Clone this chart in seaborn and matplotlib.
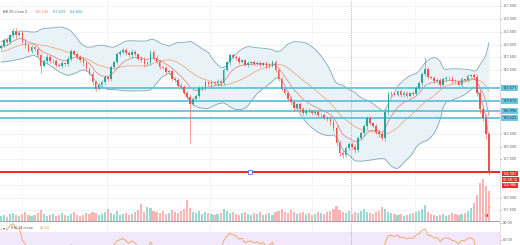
import numpy as np
import pandas as pd
import matplotlib
matplotlib.use("Agg")
import matplotlib.pyplot as plt
import seaborn as sns

# ---------------- data ----------------
warmup = [147.2, 147.6, 147.0, 146.8, 147.5, 148.1, 148.6, 148.2, 147.9, 148.4,
          149.0, 149.5, 149.1, 148.7, 149.3, 149.9, 150.2, 149.6, 149.4]

closes = [
    149.8, 150.9, 150.5, 151.9, 152.6, 152.0, 152.3, 150.6, 149.9, 148.8,
    149.5, 149.1, 148.0, 145.9, 146.9, 147.6, 146.8, 146.9, 146.1, 145.9,
    146.4, 146.2, 147.3, 148.7, 148.2, 147.6, 147.0, 146.4, 145.3, 144.3,
    142.6, 141.4, 142.2, 142.6, 143.6, 143.2, 145.6, 146.7, 148.1, 148.5,
    149.0, 148.4, 147.9, 148.6, 148.1, 147.3, 147.1, 146.2, 146.5, 148.6,
    147.4, 146.7, 145.6, 145.5, 144.6, 144.8, 143.3, 143.1, 142.0, 141.7,
    140.6, 139.8, 138.4, 139.4, 140.0, 141.5, 141.6, 142.6, 142.3, 142.6,
    142.4, 142.8, 142.5, 145.1, 146.6, 147.9, 147.6, 147.4, 146.7, 147.0,
    146.1, 146.4, 146.6, 146.2, 146.5, 146.1, 146.4, 145.7, 146.1, 146.6,
    145.1, 143.3, 141.4, 140.5, 139.4, 138.7, 137.5, 138.3, 137.4, 136.6,
    137.1, 137.0, 136.6, 136.8, 136.2, 136.3, 135.7, 135.5, 134.8, 133.7,
    130.8, 128.7, 128.3, 129.8, 130.5, 130.0, 129.3, 131.8, 132.6, 134.0,
    135.6, 134.6, 134.1, 132.9, 132.5, 131.7, 136.8, 140.4, 140.5, 140.2,
    140.9, 140.1, 140.6, 140.0, 140.5, 140.4, 141.6, 142.5, 144.2, 145.2,
    143.6, 143.5, 142.9, 143.1, 142.2, 143.3, 143.5, 143.4, 142.9, 142.8,
    142.2, 143.2, 143.1, 143.9, 144.0, 143.7, 140.6, 137.4, 135.6, 132.4,
    125.0,
]

wicks = [
    0.4, 0.3, 0.5, 0.3, 0.4, 0.6, 0.3, 0.4, 0.5, 0.3,
    0.4, 0.3, 0.5, 0.4, 0.3, 0.5, 0.4, 0.3, 0.4, 0.3,
    0.5, 0.3, 0.4, 0.5, 0.3, 0.4, 0.3, 0.5, 0.4, 0.3,
    0.5, 0.4, 0.3, 0.4, 0.5, 0.3, 0.4, 0.3, 0.5, 0.4,
    0.3, 0.4, 0.3, 0.5, 0.4, 0.3, 0.4, 0.5, 0.3, 0.4,
    0.3, 0.5, 0.4, 0.3, 0.4, 0.3, 0.5, 0.4, 0.3, 0.4,
    0.5, 0.4, 0.6, 0.4, 0.3, 0.5, 0.3, 0.4, 0.3, 0.4,
    0.3, 0.4, 0.5, 0.4, 0.3, 0.5, 0.4, 0.3, 0.4, 0.3,
    0.3, 0.4, 0.3, 0.4, 0.3, 0.4, 0.3, 0.4, 0.3, 0.4,
    0.5, 0.4, 0.5, 0.3, 0.4, 0.5, 0.4, 0.3, 0.4, 0.3,
    0.3, 0.4, 0.3, 0.4, 0.3, 0.4, 0.3, 0.4, 0.5, 0.6,
    0.6, 0.5, 0.6, 0.4, 0.5, 0.4, 0.5, 0.4, 0.5, 0.4,
    0.5, 0.4, 0.3, 0.4, 0.5, 0.4, 0.6, 0.5, 0.4, 0.3,
    0.3, 0.4, 0.3, 0.4, 0.3, 0.4, 0.3, 0.4, 0.5, 0.4,
    0.4, 0.3, 0.4, 0.3, 0.4, 0.3, 0.4, 0.3, 0.4, 0.3,
    0.3, 0.4, 0.3, 0.4, 0.3, 0.4, 0.6, 0.7, 0.6, 0.8,
    0.5,
]
long_low_idx = [13, 62, 160]
long_low_val = [144.5, 130.8, 124.4]
long_high_idx = [4, 139]
long_high_val = [153.3, 147.6]

volumes = [
    5, 6, 4, 7, 8, 6, 5, 7, 9, 6,
    5, 6, 8, 11, 7, 5, 6, 7, 5, 6,
    8, 6, 5, 7, 9, 6, 5, 6, 8, 7,
    9, 8, 6, 7, 9, 12, 8, 7, 10, 6,
    7, 8, 6, 7, 9, 11, 17, 9, 14, 13,
    10, 9, 8, 10, 7, 8, 11, 9, 8, 10,
    12, 21, 13, 9, 8, 10, 7, 9, 8, 7,
    6, 7, 8, 12, 10, 8, 9, 7, 6, 8,
    9, 7, 6, 8, 7, 9, 6, 7, 8, 6,
    9, 10, 12, 9, 8, 11, 9, 7, 8, 9,
    7, 8, 6, 7, 9, 8, 7, 9, 10, 12,
    15, 11, 9, 8, 10, 7, 9, 8, 10, 12,
    9, 8, 7, 9, 10, 14, 12, 9, 8, 7,
    6, 7, 5, 6, 7, 8, 9, 10, 12, 16,
    9, 7, 6, 5, 6, 7, 5, 6, 8, 7,
    6, 7, 8, 10, 13, 18, 26, 38, 42, 35,
    30,
]

levels_cyan = [141.571, 139.012, 136.996, 135.622]
level_red = 124.987
price_ticks = [157.5, 155.0, 152.5, 150.0, 147.5, 145.0, 132.5, 130.0, 127.5, 120.0, 117.5]
rsi_ticks = [80, 60]
header_vals = ["128.145", "131.429", "124.860"]
rsi_value = "46.24"
red_labels = ["124.987", "01:38:15", "124.986"]

# ---------------- derived series ----------------
allc = pd.Series(warmup + closes, dtype=float)
nw = len(warmup)
n = len(closes)
idx = np.arange(n)
c = np.array(closes)
o = np.array([warmup[-1]] + closes[:-1])
w = np.array(wicks)
hi = np.maximum(o, c) + w
lo = np.minimum(o, c) - w
for i, v in zip(long_low_idx, long_low_val):
    lo[i] = v
for i, v in zip(long_high_idx, long_high_val):
    hi[i] = v

mid = allc.rolling(20, min_periods=5).mean()
sd = allc.rolling(20, min_periods=5).std(ddof=0)
bb_up = (mid + 2 * sd).values[nw:]
bb_lo = (mid - 2 * sd).values[nw:]
bb_mid = mid.values[nw:]
ema9 = allc.ewm(span=9, adjust=False).mean().values[nw:]

delta = allc.diff()
gain = delta.clip(lower=0).ewm(alpha=1 / 14, adjust=False).mean()
loss = (-delta.clip(upper=0)).ewm(alpha=1 / 14, adjust=False).mean()
rsi = (100 - 100 / (1 + gain / loss)).values[nw:]

df = pd.DataFrame({"i": idx, "up": bb_up, "lo": bb_lo, "mid": bb_mid,
                   "ema": ema9, "rsi": rsi})

# ---------------- figure ----------------
sns.set_theme(style="white")
plt.rcParams["font.family"] = ["Roboto", "DejaVu Sans"]
W, H = 520, 245
fig = plt.figure(figsize=(W / 100, H / 100), dpi=100)
fig.patch.set_facecolor("white")


def px(x, y):
    return x / W, 1 - y / H


PLOT_R = 500
main_rect = [0, 1 - 221 / H, PLOT_R / W, 221 / H]
rsi_rect = [0, 0, PLOT_R / W, 23 / H]


def ypx(p):
    return 172.3 - (p - level_red) * 5.1


ylim_main = (level_red - (221 - 172.3) / 5.1, level_red + 172.3 / 5.1)
xlim = (-1 / 3.05, (PLOT_R - 1) / 3.05)

axv = fig.add_axes(main_rect)
ax = fig.add_axes(main_rect)
ax.patch.set_alpha(0)
axr = fig.add_axes(rsi_rect)

for a in (axv, ax, axr):
    a.set_xlim(*xlim)
    a.set_xticks([])
    a.set_yticks([])
    for s in a.spines.values():
        s.set_visible(False)

axv.set_ylim(*ylim_main)
for p in np.arange(117.5, 158.0, 2.5):
    axv.axhline(p, color="#f0f3f6", lw=0.6, zorder=0)
for xp in [22, 107, 210, 312, 415]:
    axv.axvline((xp - 1) / 3.05, color="#f0f3f6", lw=0.6, zorder=0)
    axr.axvline((xp - 1) / 3.05, color="#f0f3f6", lw=0.6, zorder=0)

# volume
axv2 = axv.twinx()
axv2.set_ylim(0, 221)
axv2.set_xlim(*xlim)
axv2.set_yticks([])
for s in axv2.spines.values():
    s.set_visible(False)
vcol = np.where(c >= o, "#8ad3cb", "#f6aaa8")
axv2.bar(idx, volumes, width=0.7, color=vcol, alpha=0.85, linewidth=0)

# Bollinger band
ax.set_ylim(*ylim_main)
ax.fill_between(idx, bb_lo, bb_up, color="#e6f2f6", alpha=0.85, lw=0, zorder=1)
sns.lineplot(data=df, x="i", y="up", ax=ax, color="#7aa9b7", lw=0.6, zorder=2)
sns.lineplot(data=df, x="i", y="lo", ax=ax, color="#7aa9b7", lw=0.6, zorder=2)
sns.lineplot(data=df, x="i", y="mid", ax=ax, color="#eba47a", lw=0.55, zorder=2)
sns.lineplot(data=df, x="i", y="ema", ax=ax, color="#e06a63", lw=0.45, zorder=2)

# levels
for lv in levels_cyan:
    ax.axhline(lv, color="#62c3dc", lw=1.3, zorder=3)
ax.axhline(level_red, color="#f5231f", lw=1.4, zorder=3)
ax.plot([(250 - 1) / 3.05], [level_red], marker="s", ms=2.6, mfc="white",
        mec="#2962ff", mew=0.5, zorder=6)

# candles
up = c >= o
ccol = np.where(up, "#26a69a", "#ef5350")
ax.vlines(idx, lo, hi, colors=ccol, lw=0.4, zorder=4)
ax.bar(idx, np.maximum(np.abs(c - o), 0.08), bottom=np.minimum(o, c),
       width=0.55, color=ccol, linewidth=0, zorder=5)
ax.set_xlabel("")
ax.set_ylabel("")

# crosshair
cx = (351 - 1) / 3.05
ax.axvline(cx, color="#9aa0a6", lw=0.5, ls=(0, (1.5, 1.5)), zorder=6)
axr.axvline(cx, color="#9aa0a6", lw=0.5, ls=(0, (1.5, 1.5)), zorder=6)

# RSI panel
axr.set_ylim(54.1, 81.2)
axr.axhspan(30, 70, color="#f2e8fc", lw=0, zorder=0)
sns.lineplot(data=df, x="i", y="rsi", ax=axr, color="#f0a05a", lw=0.6, zorder=3)
axr.set_xlabel("")
axr.set_ylabel("")

# pane separator and right axis line
fig.add_artist(plt.Line2D([0, PLOT_R / W], [1 - 221 / H] * 2, color="#9aa0a6",
                          lw=0.7, transform=fig.transFigure))
fig.add_artist(plt.Line2D([PLOT_R / W] * 2, [0, 1], color="#d6d9dd",
                          lw=0.6, transform=fig.transFigure))

FS = 2.9
# right-axis price labels
for p in price_ticks:
    y = ypx(p)
    fig.text(*px(503, y), f"{p:.3f}", fontsize=FS, color="#6a6d78",
             va="center", ha="left")
    fig.add_artist(plt.Line2D([PLOT_R / W, 502 / W], [1 - y / H] * 2,
                              color="#b0b3b8", lw=0.4, transform=fig.transFigure))
for lv in levels_cyan:
    fig.text(*px(502.5, ypx(lv)), f"{lv:.3f}", fontsize=FS, color="#1f3b45",
             va="center", ha="left",
             bbox=dict(boxstyle="square,pad=0.25", fc="#6cc8df", ec="none"))
for k, t in enumerate(red_labels):
    yy = [173.5, 179.5, 185.5][k]
    fig.text(*px(502.5, yy), t, fontsize=FS, color="white", va="center", ha="left",
             bbox=dict(boxstyle="square,pad=0.2", fc="#f0292a", ec="none"))
for r in rsi_ticks:
    y = 222 + (81.2 - r) / (81.2 - 54.1) * 23
    fig.text(*px(503, y), f"{r:.2f}", fontsize=FS, color="#6a6d78",
             va="center", ha="left")
    fig.add_artist(plt.Line2D([PLOT_R / W, 502 / W], [1 - y / H] * 2,
                              color="#b0b3b8", lw=0.4, transform=fig.transFigure))

# header legends
fig.text(*px(3, 12), "BB 20 close 2", fontsize=FS, color="#5d606b", va="center")
fig.text(*px(35, 12), header_vals[0], fontsize=FS, color="#e8915a", va="center")
fig.text(*px(52, 12), header_vals[1], fontsize=FS, color="#3fa7b8", va="center")
fig.text(*px(69, 12), header_vals[2], fontsize=FS, color="#3fa7b8", va="center")
fig.text(*px(3, 228), "▾", fontsize=FS, color="#5d606b", va="center",
         family=["DejaVu Sans"],
         bbox=dict(boxstyle="square,pad=0.15", fc="white", ec="#d0d3d8", lw=0.3))
fig.text(*px(11, 228), "RSI 14 close", fontsize=FS, color="#5d606b", va="center")
fig.text(*px(40, 228), rsi_value, fontsize=FS, color="#f0a05a", va="center")

# small event icon near the last bars
ax.plot([(486 - 1) / 3.05], [ylim_main[0] + (221 - 215) / 5.1], marker="o", ms=3.2,
        mfc="#f0292a", mec="white", mew=0.6, zorder=7)
ax.plot([(489 - 1) / 3.05], [ylim_main[0] + (221 - 207) / 5.1], marker="o", ms=1.8,
        mfc="#f5c542", mec="none", zorder=7)

fig.savefig("out.png", dpi=100, facecolor="white")
